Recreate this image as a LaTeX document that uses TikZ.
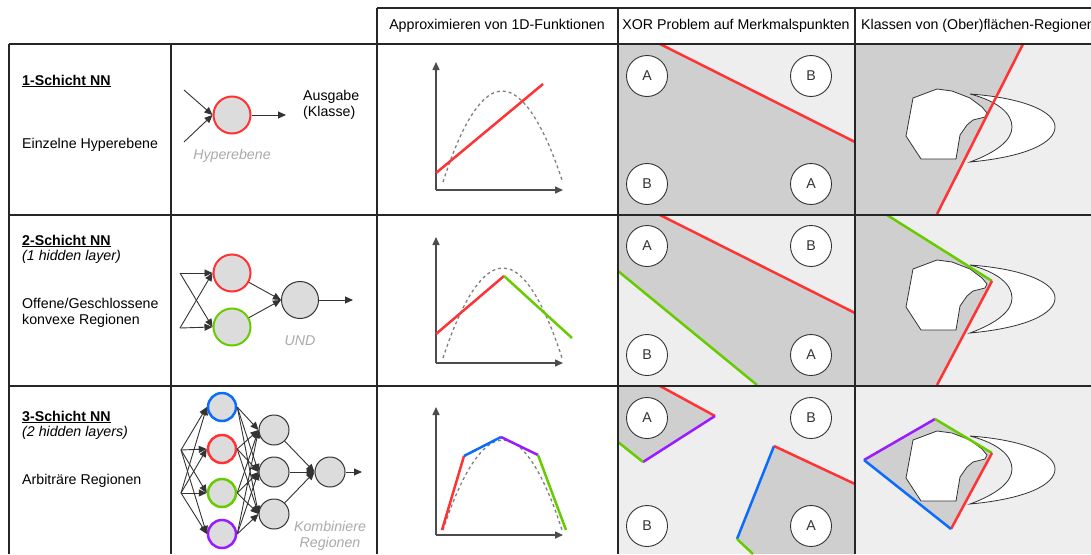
\documentclass[tikz,border=0pt]{standalone}
\usepackage{fontspec}
\setmainfont{Liberation Sans}
\usetikzlibrary{arrows.meta}
\definecolor{myred}{HTML}{FF3333}
\definecolor{mygreen}{HTML}{66CC00}
\definecolor{myblue}{HTML}{0A6CFF}
\definecolor{mypurple}{HTML}{9B1AFF}
\definecolor{darkreg}{HTML}{CFCFCF}
\definecolor{lightreg}{HTML}{EEEEEE}
\definecolor{nodefill}{HTML}{DCDCDC}
\definecolor{ink}{HTML}{333333}
\definecolor{labelgray}{HTML}{AAAAAA}
\begin{document}
\begin{tikzpicture}[x=1pt,y=-1pt,
  font=\fontsize{14.2}{16}\selectfont,
  tableline/.style={line width=2pt,draw=black!85},
  neuron/.style={circle,draw=ink,fill=nodefill,line width=1pt,inner sep=0pt,minimum size=37pt},
  smallneuron/.style={neuron,minimum size=30pt},
  syn/.style={-{Triangle[length=8pt,width=7pt]},draw=ink,line width=0.9pt},
  featpt/.style={circle,draw=ink,fill=white,line width=0.9pt,minimum size=41pt,inner sep=0pt,text=ink},
  cline/.style={line width=2.5pt},
  axisline/.style={-{Triangle[length=8pt,width=7pt]},draw=black!70,line width=1.5pt},
  targetfn/.style={dash pattern=on 3pt off 3pt,draw=gray,line width=1.3pt},
  regionshape/.style={draw=ink,fill=white,line width=0.8pt},
  note/.style={text=labelgray,font=\fontsize{14.2}{16}\selectfont\itshape,align=center},
  lefttext/.style={anchor=west,inner sep=0pt}]
\clip (0,0) rectangle (1091,554);
\fill[white] (0,0) rectangle (1091,554);

% ---------- XOR column backgrounds ----------
\fill[darkreg] (618,44) rectangle (855,214);
\fill[lightreg] (660,44) -- (855,44) -- (855,142) -- cycle;
\fill[lightreg] (618,214) rectangle (855,385);
\fill[darkreg] (618,215) -- (660,215) -- (855,313) -- (855,385) -- (757,385) -- (618,271) -- cycle;
\fill[lightreg] (618,385) rectangle (855,554);
\fill[darkreg] (618,386) -- (660,386) -- (715,416) -- (643,462) -- (618,442) -- cycle;
\fill[darkreg] (774,446) -- (855,484) -- (855,554) -- (753,554) -- (737,539) -- cycle;

% ---------- Klassen column backgrounds ----------
\fill[lightreg] (855,44) rectangle (1091,554);
\fill[darkreg] (855,44) -- (1023,44) -- (937,214) -- (855,214) -- cycle;
\fill[darkreg] (855,215) -- (887,215) -- (992,281) -- (937,385) -- (855,385) -- cycle;
\fill[darkreg] (864,460) -- (935,419) -- (992,453) -- (951,529) -- cycle;

% blobs and crescents
\foreach \dy in {0,171,342}{
  \begin{scope}[yshift=-\dy pt]
  \draw[regionshape] (913,98) -- (937,89) -- (952,91) -- (970,98) -- (982,107) -- (987,113) -- (985,117) -- (973,120) -- (967,125) -- (960,135) -- (956,159) -- (921,159) -- (906,136) -- cycle;
  \draw[regionshape] (970,94) .. controls (1025,98) and (1055,112) .. (1055,127)
     .. controls (1055,143) and (1025,157) .. (970,162)
     .. controls (997,152) and (1012,140) .. (1012,127)
     .. controls (1012,113) and (997,101) .. (970,94) -- cycle;
  \end{scope}
}

% Klassen boundary lines
\draw[cline,myred] (1023,44) -- (937,214);
\draw[cline,mygreen] (887,215) -- (992,281);
\draw[cline,myred] (992,281) -- (937,385);
\draw[cline,mypurple] (864,460) -- (935,419);
\draw[cline,mygreen] (935,419) -- (992,453);
\draw[cline,myred] (992,453) -- (951,529);
\draw[cline,myblue] (951,529) -- (864,460);

% XOR boundary lines
\draw[cline,myred] (660,44) -- (855,142);
\draw[cline,myred] (660,215) -- (855,313);
\draw[cline,mygreen] (618,271) -- (757,385);
\draw[cline,myred] (660,386) -- (715,416);
\draw[cline,mypurple] (715,416) -- (643,462);
\draw[cline,mygreen] (643,462) -- (618,442);
\draw[cline,myblue] (774,446) -- (737,539);
\draw[cline,mygreen] (737,539) -- (753,554);
\draw[cline,myred] (774,446) -- (855,484);

% XOR feature points
\foreach \r/\y in {1/76,2/246,3/418}{
  \node[featpt] (pa\r) at (647,\y) {A};
  \node[featpt] (pb\r) at (811,\y) {B};
}
\foreach \r/\y in {1/184,2/355,3/526}{
  \node[featpt] (qb\r) at (647,\y) {B};
  \node[featpt] (qa\r) at (811,\y) {A};
}

% ---------- 1D functions ----------
% row 1
\coordinate (o1f) at (436,190);
\draw[axisline] (o1f) -- (436,62);
\draw[axisline] (o1f) -- (563,190);
\draw[targetfn] (443,182) parabola bend (502,91) (562,180);
\draw[cline,myred] (436,173) -- (543,84);
% row 2
\coordinate (o2f) at (436,363);
\draw[axisline] (o2f) -- (436,237);
\draw[axisline] (o2f) -- (563,363);
\draw[targetfn] (443,358) parabola bend (503,268) (562,358);
\draw[cline,myred] (436,334) -- (504,276);
\draw[cline,mygreen] (504,276) -- (572,338);
% row 3
\coordinate (o3f) at (436,535);
\draw[axisline] (o3f) -- (436,407);
\draw[axisline] (o3f) -- (563,535);
\draw[targetfn] (443,530) parabola bend (503,440) (562,530);
\draw[cline,myred] (442,530) -- (464,456);
\draw[cline,myblue] (464,456) -- (501,437);
\draw[cline,mypurple] (501,437) -- (538,455);
\draw[cline,mygreen] (538,455) -- (566,530);

% ---------- networks ----------
% row 1
\coordinate (i1a) at (184,90);
\coordinate (i1b) at (184,142);
\node[neuron,draw=myred,line width=2pt] (n1) at (232,115) {};
\coordinate (o1) at (286,115);
\draw[syn] (i1a) -- (n1.west);
\draw[syn] (i1b) -- (n1.west);
\draw[syn] (n1) -- (o1);
\node[lefttext,align=left] (ausg) at (303,105) {Ausgabe\\(Klasse)};
\node[note] (hyp) at (232,156) {Hyperebene};
% row 2
\coordinate (i2a) at (180,273);
\coordinate (i2b) at (180,328);
\node[neuron,draw=myred,line width=2pt] (r2) at (232,273) {};
\node[neuron,draw=mygreen,line width=2pt] (g2) at (232,327) {};
\node[neuron] (out2) at (300,300) {};
\coordinate (o2) at (353,300);
\foreach \a in {i2a,i2b}{\foreach \b in {r2,g2}{\draw[syn] (\a) -- (\b.west);}}
\draw[syn] (r2) -- (out2.west);
\draw[syn] (g2) -- (out2.west);
\draw[syn] (out2) -- (o2);
\node[note] (und) at (300,341) {UND};
% row 3
\coordinate (i3a) at (181,450);
\coordinate (i3b) at (181,493);
\node[smallneuron,draw=myblue,line width=2.5pt,minimum size=28pt] (b3) at (222,407) {};
\node[smallneuron,draw=myred,line width=2.5pt,minimum size=28pt] (r3) at (222,449) {};
\node[smallneuron,draw=mygreen,line width=2.5pt,minimum size=28pt] (g3) at (222,493) {};
\node[smallneuron,draw=mypurple,line width=2.5pt,minimum size=28pt] (p3) at (222,534) {};
\node[smallneuron] (h3a) at (274,430) {};
\node[smallneuron] (h3b) at (274,472) {};
\node[smallneuron] (h3c) at (274,514) {};
\node[smallneuron] (out3) at (330,472) {};
\coordinate (o3) at (362,472);
\foreach \a in {i3a,i3b}{\foreach \b in {b3,r3,g3,p3}{\draw[syn] (\a) -- (\b.west);}}
\foreach \a in {b3,r3,g3,p3}{\foreach \b in {h3a,h3b,h3c}{\draw[syn] (\a.east) -- (\b.west);}}
\foreach \a in {h3a,h3b,h3c}{\draw[syn] (\a) -- (out3.west);}
\draw[syn] (out3) -- (o3);
\node[note] (komb) at (330,536) {Kombiniere\\Regionen};

% ---------- left texts ----------
\node[lefttext] (t1) at (22,81) {\underline{\textbf{1-Schicht NN}}};
\node[lefttext] (d1) at (22,145) {Einzelne Hyperebene};
\node[lefttext] (t2) at (22,241) {\underline{\textbf{2-Schicht NN}}};
\node[lefttext] (s2) at (22,257) {\textit{(1 hidden layer)}};
\node[lefttext,align=left] (d2) at (22,313) {Offene/Geschlossene\\konvexe Regionen};
\node[lefttext] (t3) at (22,417) {\underline{\textbf{3-Schicht NN}}};
\node[lefttext] (s3) at (22,433) {\textit{(2 hidden layers)}};
\node[lefttext] (d3) at (22,481) {Arbiträre Regionen};

% ---------- headers ----------
\node (h1) at (497,26) {Approximieren von 1D-Funktionen};
\node (h2) at (736,26) {XOR Problem auf Merkmalspunkten};
\node[lefttext] (h3) at (861,26) {Klassen von (Ober)flächen-Regionen};

% ---------- table lines ----------
\draw[tableline] (377,8) -- (1091,8);
\draw[tableline] (9,44) -- (1091,44);
\draw[tableline] (9,214.5) -- (1091,214.5);
\draw[tableline] (9,385.5) -- (1091,385.5);
\draw[tableline] (9,44) -- (9,554);
\draw[tableline] (171,44) -- (171,554);
\draw[tableline] (377,8) -- (377,554);
\draw[tableline] (618,8) -- (618,554);
\draw[tableline] (855,8) -- (855,554);
\end{tikzpicture}
\end{document}
